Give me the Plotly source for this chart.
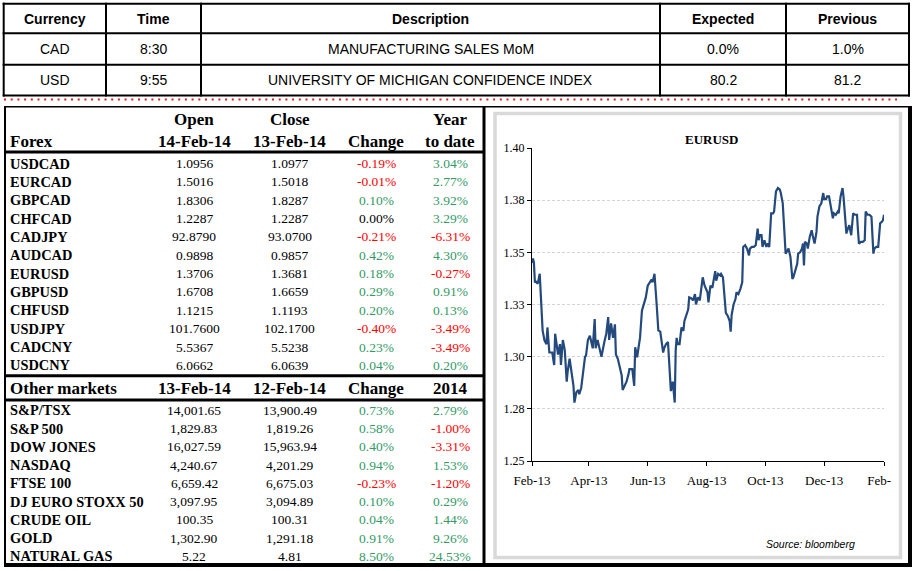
import plotly.graph_objects as go

W, H = 916, 571

# ---------------- data ----------------
cal_headers = ["Currency", "Time", "Description", "Expected", "Previous"]
cal_currency = ["CAD", "USD"]
cal_time = ["8:30", "9:55"]
cal_desc = ["MANUFACTURING SALES MoM", "UNIVERSITY OF MICHIGAN CONFIDENCE INDEX"]
cal_expected = ["0.0%", "80.2"]
cal_previous = ["1.0%", "81.2"]

forex_header_top = ["", "Open", "Close", "", "Year"]
forex_header = ["Forex", "14-Feb-14", "13-Feb-14", "Change", "to date"]
forex_names = ["USDCAD", "EURCAD", "GBPCAD", "CHFCAD", "CADJPY", "AUDCAD",
               "EURUSD", "GBPUSD", "CHFUSD", "USDJPY", "CADCNY", "USDCNY"]
forex_open = ["1.0956", "1.5016", "1.8306", "1.2287", "92.8790", "0.9898",
              "1.3706", "1.6708", "1.1215", "101.7600", "5.5367", "6.0662"]
forex_close = ["1.0977", "1.5018", "1.8287", "1.2287", "93.0700", "0.9857",
               "1.3681", "1.6659", "1.1193", "102.1700", "5.5238", "6.0639"]
forex_change = ["-0.19%", "-0.01%", "0.10%", "0.00%", "-0.21%", "0.42%",
                "0.18%", "0.29%", "0.20%", "-0.40%", "0.23%", "0.04%"]
forex_ytd = ["3.04%", "2.77%", "3.92%", "3.29%", "-6.31%", "4.30%",
             "-0.27%", "0.91%", "0.13%", "-3.49%", "-3.49%", "0.20%"]

markets_header = ["Other markets", "13-Feb-14", "12-Feb-14", "Change", "2014"]
markets_names = ["S&P/TSX", "S&P 500", "DOW JONES", "NASDAQ", "FTSE 100",
                 "DJ EURO STOXX 50", "CRUDE OIL", "GOLD", "NATURAL GAS"]
markets_open = ["14,001.65", "1,829.83", "16,027.59", "4,240.67", "6,659.42",
                "3,097.95", "100.35", "1,302.90", "5.22"]
markets_close = ["13,900.49", "1,819.26", "15,963.94", "4,201.29", "6,675.03",
                 "3,094.89", "100.31", "1,291.18", "4.81"]
markets_change = ["0.73%", "0.58%", "0.40%", "0.94%", "-0.23%",
                  "0.10%", "0.04%", "0.91%", "8.50%"]
markets_ytd = ["2.79%", "-1.00%", "-3.31%", "1.53%", "-1.20%",
               "0.29%", "1.44%", "9.26%", "24.53%"]

eurusd_dates = [
    "2013-02-13", "2013-02-14", "2013-02-15", "2013-02-16", "2013-02-17", "2013-02-19", "2013-02-21", "2013-02-23", "2013-02-24", "2013-02-26", "2013-02-28",
    "2013-03-01", "2013-03-03", "2013-03-06", "2013-03-08", "2013-03-09", "2013-03-12", "2013-03-14", "2013-03-15", "2013-03-17", "2013-03-19", "2013-03-21", "2013-03-22", "2013-03-24", "2013-03-26", "2013-03-28", "2013-03-29", "2013-03-31",
    "2013-04-02", "2013-04-03", "2013-04-05", "2013-04-07", "2013-04-09", "2013-04-10", "2013-04-12", "2013-04-14", "2013-04-16", "2013-04-17", "2013-04-19", "2013-04-20", "2013-04-22", "2013-04-24", "2013-04-26", "2013-04-29",
    "2013-05-01", "2013-05-03", "2013-05-04", "2013-05-06", "2013-05-08", "2013-05-10", "2013-05-11", "2013-05-13", "2013-05-15", "2013-05-17", "2013-05-18", "2013-05-20", "2013-05-22", "2013-05-24", "2013-05-25", "2013-05-28", "2013-05-30", "2013-05-31",
    "2013-06-02", "2013-06-04", "2013-06-05", "2013-06-07", "2013-06-09", "2013-06-11", "2013-06-13", "2013-06-15", "2013-06-17", "2013-06-18", "2013-06-20", "2013-06-22", "2013-06-24", "2013-06-26", "2013-06-27", "2013-06-29", "2013-06-30",
    "2013-07-02", "2013-07-04", "2013-07-05", "2013-07-07", "2013-07-09", "2013-07-11", "2013-07-12", "2013-07-13", "2013-07-14", "2013-07-16", "2013-07-18", "2013-07-20", "2013-07-21", "2013-07-23", "2013-07-25", "2013-07-26", "2013-07-28", "2013-07-30",
    "2013-08-01", "2013-08-02", "2013-08-04", "2013-08-06", "2013-08-07", "2013-08-09", "2013-08-11", "2013-08-12", "2013-08-14", "2013-08-15", "2013-08-17", "2013-08-19", "2013-08-20", "2013-08-22", "2013-08-23", "2013-08-25", "2013-08-27", "2013-08-28", "2013-08-30",
    "2013-09-01", "2013-09-02", "2013-09-04", "2013-09-06", "2013-09-07", "2013-09-08", "2013-09-10", "2013-09-12", "2013-09-13", "2013-09-15", "2013-09-17", "2013-09-19", "2013-09-20", "2013-09-22", "2013-09-24", "2013-09-26", "2013-09-27", "2013-09-29",
    "2013-10-01", "2013-10-03", "2013-10-05", "2013-10-06", "2013-10-07", "2013-10-09", "2013-10-10", "2013-10-12", "2013-10-14", "2013-10-15", "2013-10-17", "2013-10-19", "2013-10-21", "2013-10-22", "2013-10-24", "2013-10-26", "2013-10-28", "2013-10-29", "2013-10-31",
    "2013-11-02", "2013-11-03", "2013-11-05", "2013-11-06", "2013-11-08", "2013-11-10", "2013-11-11", "2013-11-13", "2013-11-15", "2013-11-16", "2013-11-18", "2013-11-20", "2013-11-21", "2013-11-22", "2013-11-23", "2013-11-25", "2013-11-26", "2013-11-28", "2013-11-30",
    "2013-12-01", "2013-12-03", "2013-12-05", "2013-12-06", "2013-12-08", "2013-12-10", "2013-12-12", "2013-12-13", "2013-12-15", "2013-12-16", "2013-12-18", "2013-12-20", "2013-12-22", "2013-12-23", "2013-12-25", "2013-12-27", "2013-12-28", "2013-12-30", "2013-12-31",
    "2014-01-01", "2014-01-02", "2014-01-03", "2014-01-05", "2014-01-06", "2014-01-08", "2014-01-10", "2014-01-11", "2014-01-12", "2014-01-14", "2014-01-16", "2014-01-17", "2014-01-18", "2014-01-20", "2014-01-22", "2014-01-24", "2014-01-25", "2014-01-27", "2014-01-29", "2014-01-31",
    "2014-02-02", "2014-02-03", "2014-02-05", "2014-02-07", "2014-02-09", "2014-02-11", "2014-02-12", "2014-02-13",
]
eurusd_values = [
    1.345, 1.347, 1.345, 1.3356, 1.336, 1.335, 1.3397, 1.3195, 1.3126, 1.3077, 1.306,
    1.314, 1.302, 1.302, 1.296, 1.311, 1.301, 1.306, 1.296, 1.308, 1.303, 1.288, 1.293, 1.299, 1.292, 1.286, 1.278, 1.283,
    1.284, 1.282, 1.285, 1.293, 1.300, 1.3005, 1.308, 1.310, 1.306, 1.304, 1.318, 1.304, 1.308, 1.304, 1.300, 1.307,
    1.311, 1.319, 1.308, 1.316, 1.309, 1.3155, 1.301, 1.299, 1.295, 1.291, 1.284, 1.286, 1.288, 1.2915, 1.294, 1.294, 1.286, 1.3045,
    1.2997, 1.306, 1.309, 1.322, 1.325, 1.3284, 1.334, 1.3356, 1.337, 1.3356, 1.3397, 1.3268, 1.3126, 1.312, 1.309, 1.302, 1.304,
    1.306, 1.307, 1.298, 1.2835, 1.288, 1.278, 1.303, 1.309, 1.306, 1.306, 1.314, 1.3123, 1.317, 1.320, 1.3227, 1.3284, 1.328, 1.327,
    1.330, 1.325, 1.3284, 1.327, 1.3316, 1.338, 1.334, 1.333, 1.3308, 1.326, 1.334, 1.333, 1.3356, 1.341, 1.3364, 1.3397, 1.339, 1.3397, 1.338,
    1.3236, 1.321, 1.3195, 1.317, 1.312, 1.320, 1.325, 1.3276, 1.3308, 1.330, 1.3324, 1.3356, 1.3526, 1.3534, 1.3518, 1.3485, 1.3518, 1.3526,
    1.3526, 1.3534, 1.3614, 1.3558, 1.3582, 1.3582, 1.3526, 1.3558, 1.3526, 1.3542, 1.3526, 1.3687, 1.3687, 1.3695, 1.3792, 1.3808, 1.380, 1.3784, 1.3735,
    1.359, 1.3494, 1.351, 1.3518, 1.3477, 1.3373, 1.338, 1.341, 1.3445, 1.3494, 1.350, 1.3518, 1.3542, 1.3437, 1.355, 1.3542, 1.3518, 1.3574, 1.3606,
    1.3582, 1.3542, 1.3598, 1.3671, 1.372, 1.3735, 1.3784, 1.3755, 1.3755, 1.3768, 1.3768, 1.3703, 1.3663, 1.3687, 1.368, 1.3695, 1.3687, 1.3768, 1.380,
    1.3808, 1.3768, 1.3703, 1.359, 1.3606, 1.363, 1.3582, 1.3639, 1.3687, 1.368, 1.368, 1.3606, 1.3542, 1.355, 1.355, 1.3558, 1.3695, 1.368, 1.368, 1.3671,
    1.3494, 1.3518, 1.3526, 1.3526, 1.3639, 1.3647, 1.3655, 1.368,
]

x_tick_dates = ["2013-02-13", "2013-04-13", "2013-06-13", "2013-08-13",
                "2013-10-13", "2013-12-13", "2014-02-13"]
x_tick_labels = ["Feb-13", "Apr-13", "Jun-13", "Aug-13", "Oct-13", "Dec-13",
                 "Feb-\u00a0\u00a0\u00a0"]
y_tick_values = [1.25, 1.275, 1.30, 1.325, 1.35, 1.375, 1.40]
y_tick_labels = ["1.25", "1.28", "1.30", "1.33", "1.35", "1.38", "1.40"]

# ---------------- styles ----------------
SERIF = "Liberation Serif, Times New Roman, serif"
SANS = "Liberation Sans, Arial, sans-serif"
RED = "#FF0000"
GREEN = "#339966"
LINE_BLUE = "#24497C"
HDR_SIZE = 17
LABEL_SIZE = 14.4
VALUE_SIZE = 13.5


def pct_color(s):
    if s.startswith("-"):
        return RED
    if s == "0.00%":
        return "#000000"
    return GREEN


def px(x):
    return x / W


def py(y):
    return 1 - y / H


fig = go.Figure()

fig.add_trace(go.Scatter(
    x=eurusd_dates, y=eurusd_values, mode="lines",
    line=dict(color=LINE_BLUE, width=2.2),
    showlegend=False, hoverinfo="skip"))

annotations = []
shapes = []


def txt(x, y, text, size, family, color="#000000", xanchor="center"):
    annotations.append(dict(
        x=px(x), y=py(y), xref="paper", yref="paper", text=text, showarrow=False,
        xanchor=xanchor, yanchor="middle",
        font=dict(family=family, size=size, color=color)))


def hline(y, x0, x1, width, color="#000000", dash="solid"):
    shapes.append(dict(type="line", xref="paper", yref="paper", x0=px(x0), x1=px(x1),
                       y0=py(y), y1=py(y), line=dict(color=color, width=width, dash=dash)))


def vline(x, y0, y1, width, color="#000000"):
    shapes.append(dict(type="line", xref="paper", yref="paper", x0=px(x), x1=px(x),
                       y0=py(y0), y1=py(y1), line=dict(color=color, width=width)))


# ---------------- top calendar table ----------------
cal_col_edges = [3.7, 106, 201, 660, 786, 909]
cal_row_edges = [3.7, 33.3, 64.8, 95.5]
for y in cal_row_edges:
    hline(y, cal_col_edges[0] - 1, cal_col_edges[-1] + 1, 2)
for x in cal_col_edges:
    vline(x, cal_row_edges[0] - 1, cal_row_edges[-1] + 1, 2)
cal_centers = [(cal_col_edges[i] + cal_col_edges[i + 1]) / 2 for i in range(5)]
row_mid = [(cal_row_edges[i] + cal_row_edges[i + 1]) / 2 for i in range(3)]
for c, h in zip(cal_centers, cal_headers):
    txt(c, row_mid[0], "<b>" + h + "</b>", 14, SANS)
cal_rows = list(zip(cal_currency, cal_time, cal_desc, cal_expected, cal_previous))
for r, row in enumerate(cal_rows):
    for c, v in zip(cal_centers, row):
        txt(c, row_mid[r + 1], v, 14, SANS)

# red dotted separator
hline(99.5, 4, 897, 2, color="#E31B1B", dash="2px,4.7px")

# ---------------- left market table ----------------
col_x = [8, 194, 289.5, 376, 450]
hdr_top_y, hdr_y = 119.5, 142
for i, h in enumerate(forex_header_top):
    if h:
        txt(col_x[i], hdr_top_y, "<b>" + h + "</b>", HDR_SIZE, SERIF)
for i, h in enumerate(forex_header):
    txt(col_x[i], hdr_y, "<b>" + h + "</b>", HDR_SIZE, SERIF,
        xanchor="left" if i == 0 else "center")

fx_y0, fx_step = 163.5, 18.35
for r in range(len(forex_names)):
    y = fx_y0 + r * fx_step
    txt(col_x[0], y, "<b>" + forex_names[r] + "</b>", LABEL_SIZE, SERIF, xanchor="left")
    txt(col_x[1], y, forex_open[r], VALUE_SIZE, SERIF)
    txt(col_x[2], y, forex_close[r], VALUE_SIZE, SERIF)
    txt(col_x[3], y, forex_change[r], VALUE_SIZE, SERIF, pct_color(forex_change[r]))
    txt(col_x[4], y, forex_ytd[r], VALUE_SIZE, SERIF, pct_color(forex_ytd[r]))

om_y = 388.5
for i, h in enumerate(markets_header):
    txt(col_x[i], om_y, "<b>" + h + "</b>", HDR_SIZE, SERIF,
        xanchor="left" if i == 0 else "center")

mk_y0, mk_step = 410.3, 18.25
for r in range(len(markets_names)):
    y = mk_y0 + r * mk_step
    txt(col_x[0], y, "<b>" + markets_names[r] + "</b>", LABEL_SIZE, SERIF, xanchor="left")
    txt(col_x[1], y, markets_open[r], VALUE_SIZE, SERIF)
    txt(col_x[2], y, markets_close[r], VALUE_SIZE, SERIF)
    txt(col_x[3], y, markets_change[r], VALUE_SIZE, SERIF, pct_color(markets_change[r]))
    txt(col_x[4], y, markets_ytd[r], VALUE_SIZE, SERIF, pct_color(markets_ytd[r]))

# borders of lower section
hline(106.7, 4, 912, 1.5)
vline(5, 106, 567, 2)
hline(152, 4, 484, 3)
hline(375.7, 4, 484, 3)
hline(400, 4, 484, 3)
vline(484, 106, 567, 3)
vline(910, 106, 567, 4)
hline(565, 4, 912, 4)

# grey chart frame
shapes.append(dict(type="rect", xref="paper", yref="paper", x0=px(495), x1=px(900.5),
                   y0=py(113.5), y1=py(557.5), line=dict(color="#D9D9D9", width=3.5)))

# chart title and source
txt(711, 139, "<b>EURUSD</b>", 13, SERIF)
txt(810, 544, "<i>Source: bloomberg</i>", 10.5, SANS)

fig.update_layout(
    width=W, height=H,
    margin=dict(l=0, r=0, t=0, b=0, pad=0, autoexpand=False),
    paper_bgcolor="white", plot_bgcolor="white",
    showlegend=False,
    xaxis=dict(
        type="date", domain=[px(532), px(884)],
        range=["2013-02-13", "2014-02-13"],
        tickvals=x_tick_dates, ticktext=x_tick_labels,
        ticks="outside", ticklen=4, tickcolor="#000000", tickwidth=1,
        showline=True, linecolor="#000000", linewidth=1,
        showgrid=False, zeroline=False,
        tickfont=dict(family=SERIF, size=13, color="#000000"),
        ticklabelstandoff=3,
    ),
    yaxis=dict(
        domain=[py(461), py(148)], range=[1.25, 1.40],
        tickvals=y_tick_values, ticktext=y_tick_labels,
        ticks="outside", ticklen=4, tickcolor="#000000", tickwidth=1,
        showline=True, linecolor="#000000", linewidth=1,
        showgrid=True, gridcolor="#D4D4D4", gridwidth=1, griddash="3px,2px",
        zeroline=False,
        tickfont=dict(family=SERIF, size=12, color="#000000"),
    ),
    annotations=annotations,
    shapes=shapes,
)

# remove the browser's default page margin so the figure fills the window
fig.write_html("out.html", config={"displayModeBar": False},
               post_script="document.body.style.margin='0';")
